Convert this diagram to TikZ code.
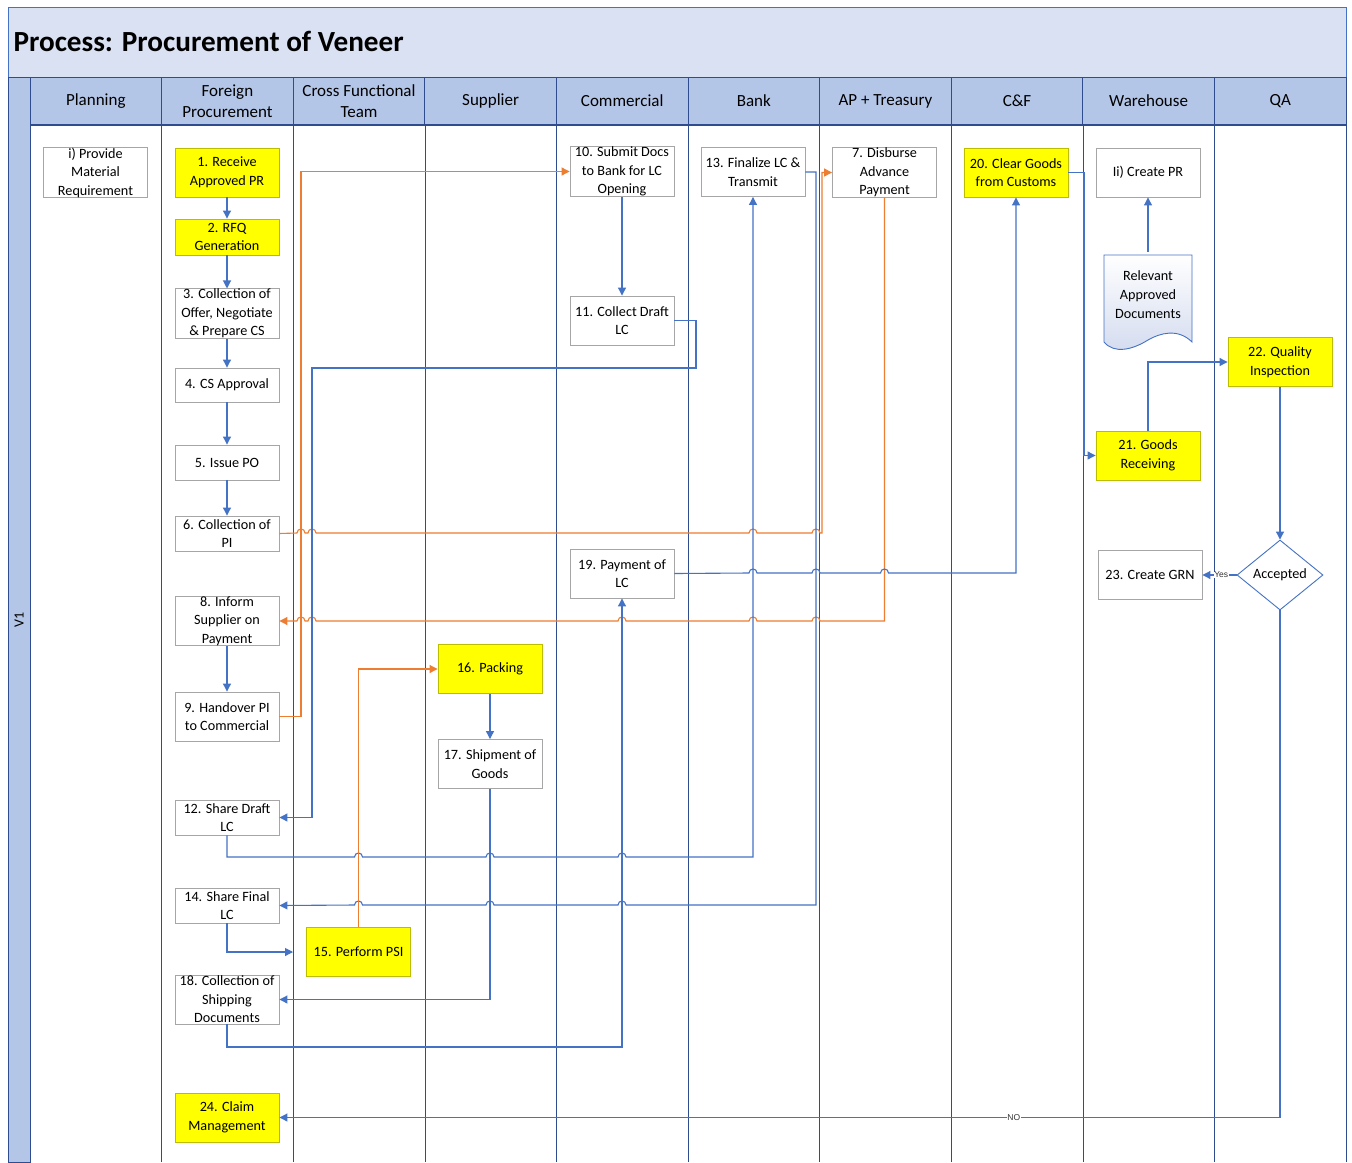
\documentclass[tikz,border=0pt]{standalone}
\usepackage{fontspec}
\setmainfont{Carlito}
\newfontfamily\arialf{Liberation Sans}
\usetikzlibrary{shapes.geometric,arrows.meta}
\definecolor{lane}{HTML}{2F4D8E}
\definecolor{conn}{HTML}{4472C4}
\definecolor{orng}{HTML}{ED7D31}
\definecolor{hdr}{HTML}{B4C6E7}
\definecolor{ttl}{HTML}{DAE1F3}
\definecolor{gbord}{HTML}{A6A6A6}
\definecolor{ybord}{HTML}{BDBD00}
\definecolor{ylw}{HTML}{FFFF00}
\definecolor{docfill}{HTML}{D3DBEF}
\begin{document}
\begin{tikzpicture}[x=1pt,y=-1pt,
  box/.style={draw=gbord, fill=white, line width=0.9pt, minimum width=104pt, minimum height=49pt, align=center, inner sep=0pt, font=\fontsize{14.2}{18.5}\selectfont},
  ybox/.style={box, fill=ylw, draw=ybord},
  hdrcell/.style={draw=lane, fill=hdr, line width=0.9pt},
  hdrtext/.style={align=center, font=\fontsize{17}{21.5}\selectfont},
  lanel/.style={draw=lane, line width=1.1pt},
  blu/.style={draw=conn, line width=1.1pt},
  org/.style={draw=orng, line width=1.1pt},
  arr/.style={-{Triangle[length=8pt,width=8pt]}},
  lbl/.style={fill=white, inner sep=0.5pt, font=\arialf\fontsize{8.5}{9}\selectfont, text=black!80}
]
\useasboundingbox (0,0) rectangle (1352,1162);
% title band
\fill[white] (0,0) rectangle (1352,1162);
\draw[draw=conn, fill=ttl, line width=0.9pt] (8,7) rectangle (1346,77);
\node[anchor=west, font=\bfseries\fontsize{29.2}{32}\selectfont] (title) at (10,41) {Process: Procurement of Veneer};
% left strip
\draw[hdrcell] (8,77) rectangle (30,1162);
\node[rotate=90, font=\fontsize{14}{15}\selectfont] (v1) at (19,620) {V1};
% header cells
\foreach \i/\t in {0/Planning,1/{Foreign\\Procurement},2/{Cross Functional\\Team},3/Supplier,4/Commercial,5/Bank,6/AP + Treasury,7/C\&F,8/Warehouse,9/QA}{
  \draw[hdrcell] ({30+\i*131.6},77) rectangle ({30+(\i+1)*131.6},125);
  \node[hdrtext] (h\i) at ({30+(\i+0.5)*131.6},101) {\t};
}
% lane lines
\foreach \i in {0,...,10}{
  \draw[lanel] ({30.3+\i*131.6},125) -- ({30.3+\i*131.6},1162);
}
\draw[lanel] (30,125) -- (1346,125);

% ---------------- nodes ----------------
\node[box] (pi) at (95.5,172.5) {i) Provide\\Material\\Requirement};
\node[ybox] (n1) at (227,172.5) {1. Receive\\Approved PR};
\node[ybox, minimum height=36pt] (n2) at (227,237) {2. RFQ\\Generation};
\node[box] (n3) at (227,313.5) {3. Collection of\\Offer, Negotiate\\\& Prepare CS};
\node[box, minimum height=34pt] (n4) at (227,385) {4. CS Approval};
\node[box, minimum height=35pt] (n5) at (227,462.5) {5. Issue PO};
\node[box, minimum height=35pt] (n6) at (227,533.5) {6. Collection of\\PI};
\node[box] (n8) at (227,621) {8. Inform\\Supplier on\\Payment};
\node[box] (n9) at (227,716.5) {9. Handover PI\\to Commercial};
\node[box, minimum height=35pt] (n12) at (227,817.5) {12. Share Draft\\LC};
\node[box, minimum height=35pt] (n14) at (227,905.5) {14. Share Final\\LC};
\node[box] (n18) at (227,999.5) {18. Collection of\\Shipping\\Documents};
\node[ybox] (n24) at (227,1117.5) {24. Claim\\Management};
\node[ybox] (n15) at (358.5,952) {15. Perform PSI};
\node[ybox] (n16) at (490,669) {16. Packing};
\node[box] (n17) at (490,764) {17. Shipment of\\Goods};
\node[box] (n10) at (622,171.5) {10. Submit Docs\\to Bank for LC\\Opening};
\node[box] (n11) at (622,320.5) {11. Collect Draft\\LC};
\node[box] (n19) at (622,573.5) {19. Payment of\\LC};
\node[box] (n13) at (753,172) {13. Finalize LC \&\\Transmit};
\node[box] (n7) at (884.5,172.5) {7. Disburse\\Advance\\Payment};
\node[ybox] (n20) at (1016,172.5) {20. Clear Goods\\from Customs};
\node[box] (nii) at (1148,172.5) {Ii) Create PR};
\node[ybox] (n21) at (1148,455.5) {21. Goods\\Receiving};
\node[ybox] (n22) at (1280,362) {22. Quality\\Inspection};
\node[box] (n23) at (1150,575) {23. Create GRN};
\node[draw=conn, fill=white, line width=0.9pt, diamond, aspect=1.23, minimum width=86pt, minimum height=70pt, inner sep=0pt, font=\fontsize{14.2}{16}\selectfont] (acc) at (1280,575) {Accepted};
% document shape
\draw[draw=conn, line width=0.9pt, top color=white, bottom color=docfill]
  (1104,255) -- (1192,255) -- (1192,342)
  .. controls (1178,328) and (1160,333) .. (1148,340)
  .. controls (1132,350) and (1114,354) .. (1104,342) -- cycle;
\node[align=center, inner sep=0pt, minimum width=88pt, minimum height=85pt, font=\fontsize{14.2}{19}\selectfont] (doc) at (1148,294.5) {Relevant\\Approved\\Documents};

% ---------------- connectors ----------------
\draw[blu,arr] (n1) -- (n2);
\draw[blu,arr] (n2) -- (n3);
\draw[blu,arr] (n3) -- (n4);
\draw[blu,arr] (n4) -- (n5);
\draw[blu,arr] (n5) -- (n6);
\draw[blu,arr] (n8) -- (n9);
\draw[blu,arr] (n10) -- (n11);
\draw[blu,arr] (n16) -- (n17);
% 6 -> 7
\draw[org,arr] (n6.east) -- (297,533)
  .. controls (297,527.7) and (305,527.7) .. (305,533) -- (308,533)
  .. controls (308,527.7) and (316,527.7) .. (316,533) -- (749,533)
  .. controls (749,527.7) and (757,527.7) .. (757,533) -- (812,533)
  .. controls (812,527.7) and (820,527.7) .. (820,533) -- (822,533) |- (n7.west);
% 7 -> 8
\draw[org,arr] (n7.south) -- (884.5,621) -- (820,621)
  .. controls (820,615.7) and (812,615.7) .. (812,621) -- (757,621)
  .. controls (757,615.7) and (749,615.7) .. (749,621) -- (626,621)
  .. controls (626,615.7) and (618,615.7) .. (618,621) -- (316,621)
  .. controls (316,615.7) and (308,615.7) .. (308,621) -- (305,621)
  .. controls (305,615.7) and (297,615.7) .. (297,621) -- (n8.east);
% 9 -> 10
\draw[org,arr] (n9.east) -- (301,716.5) |- (n10.west);
% 11 -> 12
\draw[blu,arr] (n11.east) -- (696,320.5) -- (696,368) -- (312,368) |- (n12.east);
% 12 -> 13
\draw[blu,arr] (n12.south) -- (227,857) -- (354.5,857)
  .. controls (354.5,851.7) and (362.5,851.7) .. (362.5,857) -- (486,857)
  .. controls (486,851.7) and (494,851.7) .. (494,857) -- (618,857)
  .. controls (618,851.7) and (626,851.7) .. (626,857) -- (753,857) -- (n13.south);
% 13 -> 14
\draw[blu,arr] (n13.east) -- (816,172) -- (816,905) -- (626,905)
  .. controls (626,899.7) and (618,899.7) .. (618,905) -- (494,905)
  .. controls (494,899.7) and (486,899.7) .. (486,905) -- (362.5,905)
  .. controls (362.5,899.7) and (354.5,899.7) .. (354.5,905) -- (n14.east);
% 14 -> 15
\coordinate (p15) at (293,952);
\draw[blu,arr] (n14.south) |- (p15);
% 15 -> 16
\draw[org,arr] (n15.north) |- (n16.west);
% 17 -> 18
\draw[blu,arr] (n17.south) |- (n18.east);
% 18 -> 19
\draw[blu,arr] (n18.south) -- (227,1047) -| (n19.south);
% 19 -> 20
\draw[blu,arr] (n19.east) -- (749,573)
  .. controls (749,567.7) and (757,567.7) .. (757,573) -- (812,573)
  .. controls (812,567.7) and (820,567.7) .. (820,573) -- (880.5,573)
  .. controls (880.5,567.7) and (888.5,567.7) .. (888.5,573) -- (1016,573) -- (n20.south);
% 20 -> 21
\draw[blu,arr] (n20.east) -- (1084,172.5) |- (n21.west);
% doc -> ii
\draw[blu,arr] (doc.north) -- (nii.south);
% 21 -> 22
\draw[blu,arr] (n21.north) |- (n22.west);
% 22 -> accepted
\draw[blu,arr] (n22) -- (acc);
% accepted -> 23
\draw[blu,arr] (acc.west) -- node[lbl, pos=0.45] (yes) {Yes} (n23.east);
% accepted -> 24
\draw[blu,arr] (acc.south) |- node[lbl, pos=0.633] (no) {NO} (n24.east);
\end{tikzpicture}
\end{document}
